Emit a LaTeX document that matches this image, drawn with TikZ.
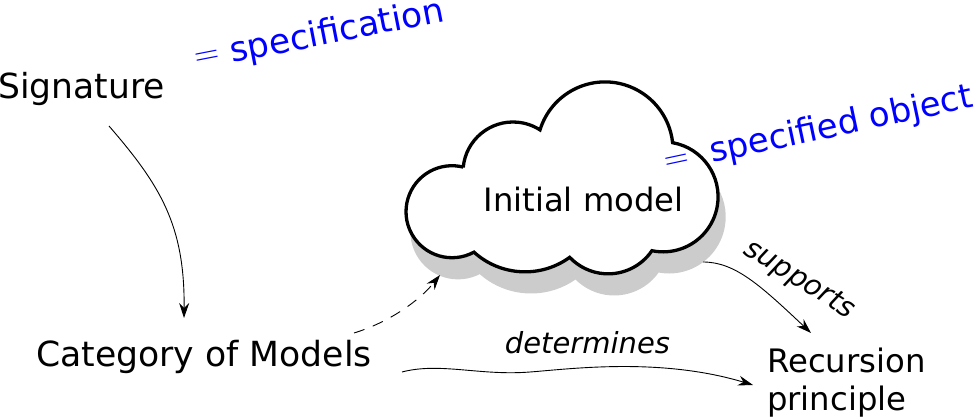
\documentclass[tikz,border=0pt]{standalone}
\usepackage{fontspec}
\setmainfont{DejaVu Sans}
\newfontfamily\eqfont{Latin Modern Roman}
\usetikzlibrary{arrows.meta,calc}
\definecolor{shadowgray}{HTML}{CCCCCC}
\definecolor{specblue}{RGB}{0,0,255}
\begin{document}
\begin{tikzpicture}[x=1pt,y=-1pt,
  lbl/.style={inner sep=0pt, anchor=base},
  bluelbl/.style={inner sep=0pt, anchor=base, text=specblue},
  conn/.style={line width=0.9pt, -{Stealth[length=15pt,width=10pt,inset=5pt]}},
  dashconn/.style={conn, dash pattern=on 11pt off 9pt},
  cloudline/.style={line width=3.3pt, draw=black, fill=white},
  cloudshadow/.style={line width=3.3pt, draw=shadowgray, fill=shadowgray}]
\useasboundingbox (0,0) rectangle (980,419);

% cloud shadow
\path[cloudshadow, shift={(6,20)}] (513,172) ++(174.7:50pt)
  arc[start angle=174.7, end angle=57.3, radius=50pt]
  arc[start angle=162.9, end angle=6.1, radius=68pt]
  arc[start angle=80.0, end angle=-101.7, radius=55pt]
  arc[start angle=-34.3, end angle=-136.5, radius=53pt]
  arc[start angle=-54.0, end angle=-132.2, radius=76pt]
  arc[start angle=-61.5, end angle=-284.1, radius=46pt]
  -- cycle;
% cloud
\path[cloudline] (513,172) ++(174.7:50pt)
  arc[start angle=174.7, end angle=57.3, radius=50pt]
  arc[start angle=162.9, end angle=6.1, radius=68pt]
  arc[start angle=80.0, end angle=-101.7, radius=55pt]
  arc[start angle=-34.3, end angle=-136.5, radius=53pt]
  arc[start angle=-54.0, end angle=-132.2, radius=76pt]
  arc[start angle=-61.5, end angle=-284.1, radius=46pt]
  -- cycle;

% labels
\node[lbl, font=\fontsize{34.5}{41}\selectfont] (sig) at (81.5,99) {Signature};
\node[lbl, font=\fontsize{34.6}{41}\selectfont] (cat) at (204,366.7) {Category of Models};
\node[lbl, font=\fontsize{32.2}{39}\selectfont] (init) at (583.5,212) {Initial model};
\node[inner sep=0pt, anchor=base west, align=left, font=\fontsize{32.3}{38}\selectfont] (rec) at (767,410) {Recursion\\principle};
\node[lbl, font=\fontsize{29}{35}\selectfont\itshape] (det) at (587.5,353.3) {determines};
\node[lbl, rotate=-32, font=\fontsize{28.5}{34}\selectfont\itshape] (sup) at (795.5,286) {supports};

\node[bluelbl, rotate=11, font=\fontsize{34.5}{41}\selectfont] (spec) at (339,42) {specification};
\node[inner sep=0pt, anchor=center, rotate=11, text=specblue, font=\fontsize{34.5}{41}\selectfont\eqfont] (eqa) at (208,58.5) {=};
\node[bluelbl, rotate=12, font=\fontsize{34}{40}\selectfont] (obj) at (843.3,135) {specified object};
\node[inner sep=0pt, anchor=center, rotate=12, text=specblue, font=\fontsize{34}{40}\selectfont\eqfont] (eqb) at (677.5,162.5) {=};

% connector end points
\coordinate (sigout) at (109,126);
\coordinate (catin) at (184,318);
\coordinate (catout) at (354,333);
\coordinate (cloudin) at (440,275);
\coordinate (catout2) at (402,372);
\coordinate (detmid) at (530,372);
\coordinate (recin) at (753,385);
\coordinate (cloudout) at (703,262);
\coordinate (recin2) at (811,333);

\draw[conn] (sigout) .. controls (160,185) and (185,225) .. (catin);
\draw[dashconn] (catout) .. controls (390,322) and (420,300) .. (cloudin);
\draw[conn] (catout2) .. controls (440,362) and (480,376) .. (detmid)
  .. controls (570,369) and (660,357) .. (recin);
\draw[conn] (cloudout) .. controls (735,262) and (760,285) .. (recin2);
\end{tikzpicture}
\end{document}
